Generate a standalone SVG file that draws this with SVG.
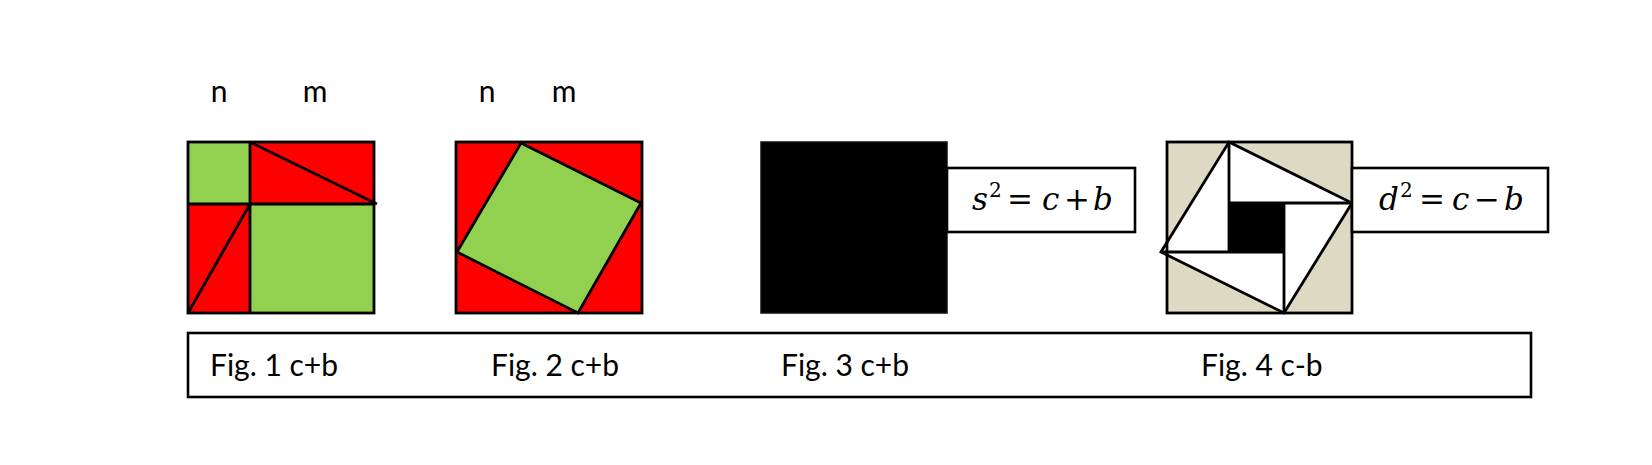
<svg xmlns="http://www.w3.org/2000/svg" width="1652" height="465" viewBox="0 0 1652 465">
<style>
.ln{stroke:#000;stroke-width:2.8;fill:none;stroke-linejoin:miter;stroke-linecap:butt}
.red{fill:#FF0000}
.grn{fill:#92D050}
.tan{fill:#DDD9C3}
.lbl{font-family:Lato,"Liberation Sans",sans-serif;font-size:30px;fill:#000}
.math{font-family:"DejaVu Serif","Liberation Serif",serif;font-size:31px;fill:#000}
.it{font-style:italic}
.sup{font-size:20px}
.box{fill:#fff;stroke:#000;stroke-width:2.6}
</style>
<rect width="1652" height="465" fill="#fff"/>
<g id="labels">
<text class="lbl" x="219" y="102" text-anchor="middle">n</text>
<text class="lbl" x="315" y="102" text-anchor="middle">m</text>
<text class="lbl" x="487" y="102" text-anchor="middle">n</text>
<text class="lbl" x="564" y="102" text-anchor="middle">m</text>
</g>
<g id="fig1">
<rect class="red" x="188" y="142" width="186" height="171"/>
<rect class="grn" x="188" y="142" width="62" height="62"/>
<rect class="grn" x="250" y="204" width="124" height="109"/>
<line class="ln" x1="250" y1="142" x2="250" y2="313"/>
<line class="ln" x1="188" y1="204" x2="374" y2="204"/>
<line class="ln" x1="250" y1="142" x2="377" y2="204"/>
<line class="ln" x1="250" y1="204" x2="188" y2="313"/>
<rect class="ln" x="188" y="142" width="186" height="171"/>
</g>
<g id="fig2">
<rect class="red" x="456" y="142" width="186" height="171"/>
<polygon class="grn" points="521,143 641,203 578,313 457,252"/>
<polygon class="ln" points="521,143 641,203 578,313 457,252"/>
<rect class="ln" x="456" y="142" width="186" height="171"/>
</g>
<g id="fig3">
<rect x="761" y="142" width="186" height="171" fill="#000" stroke="#111" stroke-width="1.5"/>
</g>
<g id="formula-s">
<rect class="box" x="947" y="168" width="188" height="64"/>
<text class="math" y="210"><tspan class="it" x="972">s</tspan><tspan class="sup" x="989" y="197">2</tspan><tspan x="1007" y="210">=</tspan><tspan class="it" x="1042">c</tspan><tspan x="1064">+</tspan><tspan class="it" x="1093">b</tspan></text>
</g>
<g id="fig4">
<rect class="tan" x="1167" y="142" width="185" height="171"/>
<polygon points="1229,142 1352,203 1284,313 1161,252" fill="#fff"/>
<rect x="1229" y="203" width="55" height="49" fill="#000"/>
<line class="ln" x1="1229" y1="142" x2="1229" y2="252"/>
<line class="ln" x1="1229" y1="203" x2="1352" y2="203"/>
<line class="ln" x1="1284" y1="203" x2="1284" y2="313"/>
<line class="ln" x1="1161" y1="252" x2="1284" y2="252"/>
<rect class="ln" x="1167" y="142" width="185" height="171"/>
<polygon class="ln" points="1229,142 1352,203 1284,313 1161,252"/>
</g>
<g id="formula-d">
<rect class="box" x="1352" y="168" width="196" height="64"/>
<text class="math" y="210"><tspan class="it" x="1379">d</tspan><tspan class="sup" x="1400" y="197">2</tspan><tspan x="1419" y="210">=</tspan><tspan class="it" x="1452">c</tspan><tspan x="1474">−</tspan><tspan class="it" x="1504">b</tspan></text>
</g>
<g id="captions">
<rect class="box" x="188" y="333" width="1343" height="64"/>
<text class="lbl" x="210" y="376">Fig. 1 c+b</text>
<text class="lbl" x="491" y="376">Fig. 2 c+b</text>
<text class="lbl" x="781" y="376">Fig. 3 c+b</text>
<text class="lbl" x="1201" y="376">Fig. 4 c-b</text>
</g>
<g id="connectors"/>
</svg>
